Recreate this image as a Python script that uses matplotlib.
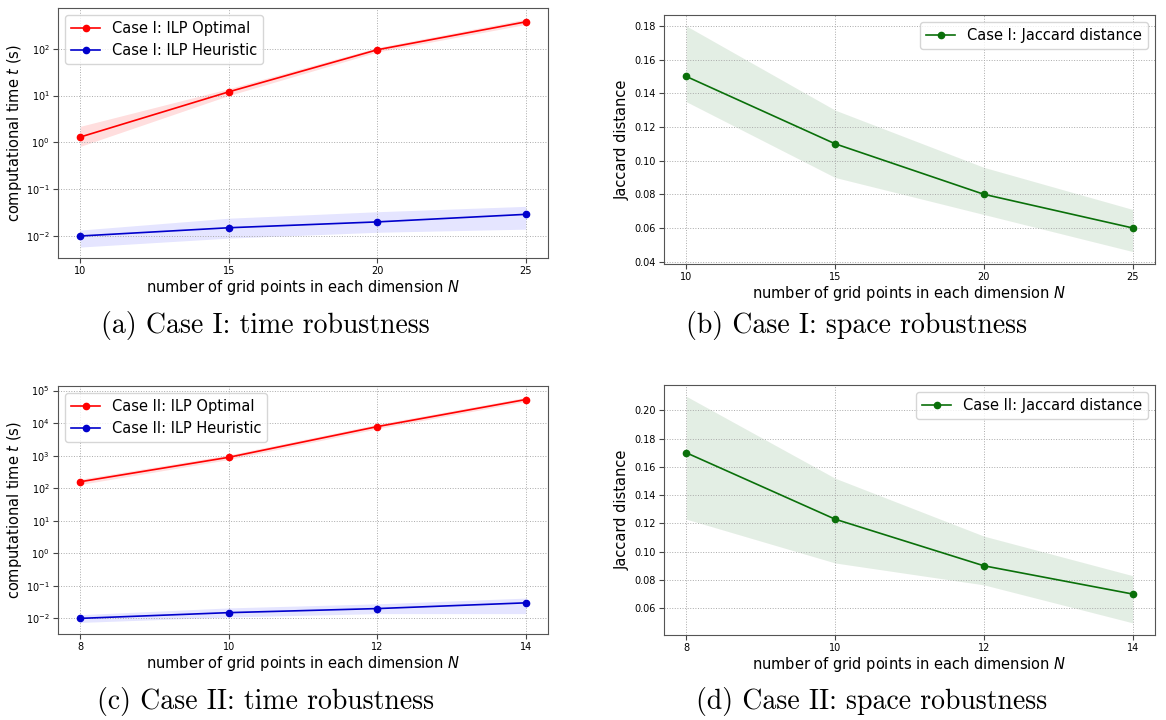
import numpy as np
import matplotlib
matplotlib.use("Agg")
import matplotlib.pyplot as plt

# Case I data
n1 = [10, 15, 20, 25]
opt1 = [1.3, 12, 95, 375]
opt1_lo = [0.82, 10.0, 85, 330]
opt1_hi = [2.2, 14.0, 106, 430]
heu1 = [0.010, 0.015, 0.020, 0.029]
heu1_lo = [0.0058, 0.009, 0.012, 0.014]
heu1_hi = [0.0134, 0.024, 0.033, 0.043]
jac1 = [0.150, 0.110, 0.080, 0.060]
jac1_lo = [0.135, 0.090, 0.068, 0.046]
jac1_hi = [0.180, 0.130, 0.096, 0.071]

# Case II data
n2 = [8, 10, 12, 14]
opt2 = [158, 890, 7800, 53000]
opt2_lo = [130, 760, 6700, 46000]
opt2_hi = [190, 1050, 9200, 62000]
heu2 = [0.010, 0.015, 0.020, 0.030]
heu2_lo = [0.0075, 0.011, 0.014, 0.014]
heu2_hi = [0.013, 0.021, 0.028, 0.042]
jac2 = [0.170, 0.123, 0.090, 0.070]
jac2_lo = [0.123, 0.092, 0.0765, 0.0496]
jac2_hi = [0.210, 0.152, 0.111, 0.083]

captions = ["(a) Case I: time robustness", "(b) Case I: space robustness",
            "(c) Case II: time robustness", "(d) Case II: space robustness"]

fig = plt.figure(figsize=(11.66, 7.2), dpi=100)
W, H = 1166, 720


def make_ax(l, t, r, b):
    return fig.add_axes([l / W, 1 - b / H, (r - l) / W, (b - t) / H])


def style(ax):
    ax.grid(True, linestyle=':', color='#aaaaaa', linewidth=0.7)
    ax.tick_params(labelsize=7, color='#444444', length=3.5, pad=2.5)
    for s in ax.spines.values():
        s.set_color('#555555')
    ax.set_xlabel('number of grid points in each dimension $N$', fontsize=10.5, labelpad=1)


def time_panel(ax, n, opt, olo, ohi, heu, hlo, hhi, case, ylim):
    ax.fill_between(n, olo, ohi, color='red', alpha=0.13, linewidth=0)
    ax.fill_between(n, hlo, hhi, color='blue', alpha=0.1, linewidth=0)
    ax.plot(n, opt, '-o', color='red', markersize=4.5, linewidth=1.2, label=f'Case {case}: ILP Optimal')
    ax.plot(n, heu, '-o', color='#0000cc', markersize=4.5, linewidth=1.2, label=f'Case {case}: ILP Heuristic')
    ax.set_yscale('log')
    ax.set_ylim(*ylim)
    ax.minorticks_off()
    ax.set_xticks(n)
    ax.set_ylabel('computational time $t$ (s)', fontsize=10.5, labelpad=1)
    style(ax)
    ax.legend(loc='upper left', fontsize=10.5, handlelength=2)


def space_panel(ax, n, jac, lo, hi, case, ylim, yticks):
    ax.fill_between(n, lo, hi, color='#2e7d32', alpha=0.13, linewidth=0)
    ax.plot(n, jac, '-o', color='#0a700a', markersize=4.5, linewidth=1.2, label=f'Case {case}: Jaccard distance')
    ax.set_ylim(*ylim)
    ax.set_yticks(yticks)
    ax.set_xticks(n)
    ax.set_ylabel('Jaccard distance', fontsize=10.5, labelpad=3)
    style(ax)
    ax.legend(loc='upper right', fontsize=10.5, handlelength=2)


ax_a = make_ax(58, 8, 548, 258)
time_panel(ax_a, n1, opt1, opt1_lo, opt1_hi, heu1, heu1_lo, heu1_hi, 'I', (10 ** -2.47, 10 ** 2.87))

ax_b = make_ax(664, 15, 1155, 264)
space_panel(ax_b, n1, jac1, jac1_lo, jac1_hi, 'I', (0.0386, 0.1865), np.arange(0.04, 0.181, 0.02))

ax_c = make_ax(58, 386, 548, 634)
time_panel(ax_c, n2, opt2, opt2_lo, opt2_hi, heu2, heu2_lo, heu2_hi, 'II', (10 ** -2.48, 10 ** 5.14))

ax_d = make_ax(664, 385, 1155, 635)
space_panel(ax_d, n2, jac2, jac2_lo, jac2_hi, 'II', (0.041, 0.218), np.arange(0.06, 0.201, 0.02))

# sub-figure captions
cap_pos = [(265, 326), (857, 326), (266, 701), (872, 701)]
for (cx, cy), txt in zip(cap_pos, captions):
    fig.text(cx / W, 1 - cy / H, txt, ha='center', va='center', fontsize=20, family='cmr10')

fig.savefig('out.png', dpi=100)
